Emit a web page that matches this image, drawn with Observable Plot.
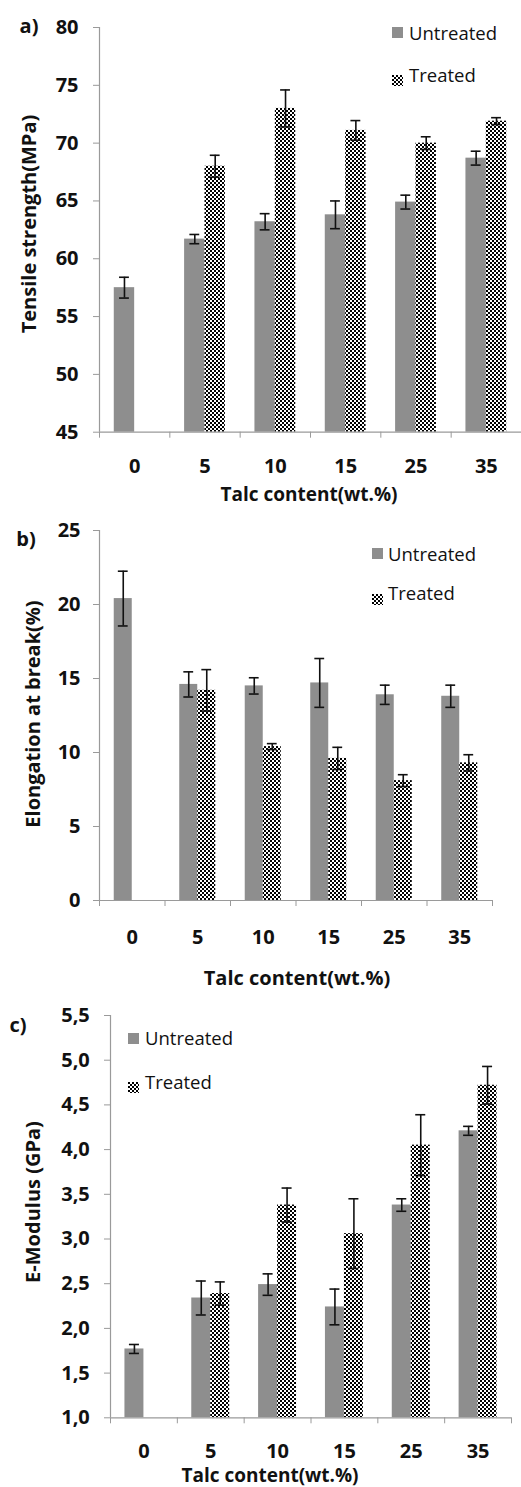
<!DOCTYPE html>
<html><head><meta charset="utf-8">
<script src="https://cdn.jsdelivr.net/npm/d3@7"></script>
<script src="https://cdn.jsdelivr.net/npm/@observablehq/plot@0.6"></script>
<style>
body{margin:0;background:#fff;}
#root{position:relative;width:521px;height:1487px;overflow:hidden;font-family:"Open Sans",sans-serif;color:#111;}
.panel{position:absolute;left:0;}
.t{position:absolute;white-space:nowrap;line-height:1;}
.b{font-weight:700;font-size:20px;}
.s{font-size:19px;}
.c{transform:translate(-50%,-50%);}
.r{transform:translate(-50%,-50%) rotate(-90deg);}
.lg{font-weight:400;font-size:18.5px;transform:translateY(-50%);}
.sw{position:absolute;width:11px;height:11px;}
</style></head>
<body>
<svg width="0" height="0" style="position:absolute">
  <defs>
    <pattern id="chk" width="4" height="4" patternUnits="userSpaceOnUse">
      <rect width="4" height="4" fill="#fff"/>
      <rect width="2" height="2" fill="#000"/>
      <rect x="2" y="2" width="2" height="2" fill="#000"/>
    </pattern>
  </defs>
</svg>
<div id="root"></div>
<script>
const cats = ["0","5","10","15","25","35"];

const tensileUntreated = [57.5, 61.7, 63.2, 63.8, 64.9, 68.7];
const tensileUntreatedErr = [0.9, 0.4, 0.7, 1.2, 0.6, 0.6];
const tensileTreated = [null, 68.0, 73.0, 71.1, 70.0, 71.9];
const tensileTreatedErr = [null, 0.95, 1.6, 0.85, 0.55, 0.3];
const tensileTicks = [45, 50, 55, 60, 65, 70, 75, 80];

const elongUntreated = [20.4, 14.6, 14.5, 14.7, 13.9, 13.8];
const elongUntreatedErr = [1.85, 0.85, 0.55, 1.65, 0.65, 0.75];
const elongTreated = [null, 14.2, 10.4, 9.6, 8.1, 9.3];
const elongTreatedErr = [null, 1.4, 0.2, 0.75, 0.4, 0.55];
const elongTicks = [0, 5, 10, 15, 20, 25];

const modUntreated = [1.77, 2.34, 2.49, 2.24, 3.38, 4.21];
const modUntreatedErr = [0.05, 0.19, 0.12, 0.2, 0.07, 0.05];
const modTreated = [null, 2.39, 3.38, 3.06, 4.05, 4.72];
const modTreatedErr = [null, 0.13, 0.19, 0.39, 0.34, 0.21];
const modTicks = [1.0, 1.5, 2.0, 2.5, 3.0, 3.5, 4.0, 4.5, 5.0, 5.5];

const root = document.getElementById("root");

function panel(cfg) {
  const n = cats.length;
  const bw = cfg.bar, cw = cfg.cap;
  const y0 = cfg.yDomain[0];
  const rowsU = cats.map((c, i) => ({i, v: cfg.u[i], e: cfg.ue[i]}));
  const rowsT = cats.map((c, i) => ({i, v: cfg.t[i], e: cfg.te[i]})).filter(d => d.v != null);
  const errs = [
    ...rowsU.map(d => ({...d, c: d.i + 0.5 - bw / 2})),
    ...rowsT.map(d => ({...d, c: d.i + 0.5 + bw / 2}))
  ];
  const chart = Plot.plot({
    width: 521, height: cfg.height,
    marginLeft: cfg.ml, marginRight: cfg.mr, marginTop: cfg.mt, marginBottom: cfg.mb,
    x: {domain: [0, n]},
    y: {domain: cfg.yDomain},
    style: {fontFamily: "Open Sans", fontSize: "20px", fontWeight: "bold", color: "#111", background: "transparent", overflow: "visible"},
    marks: [
      Plot.rect(rowsU, {x1: d => d.i + 0.5 - bw, x2: d => d.i + 0.5, y1: y0, y2: "v", fill: "#8e8e8e"}),
      Plot.rect(rowsT, {x1: d => d.i + 0.5, x2: d => d.i + 0.5 + bw, y1: y0, y2: "v", fill: "url(#chk)"}),
      Plot.ruleX(errs, {x: "c", y1: d => d.v - d.e, y2: d => d.v + d.e, stroke: "#111", strokeWidth: 1.6}),
      Plot.ruleY(errs, {x1: d => d.c - cw / 2, x2: d => d.c + cw / 2, y: d => d.v + d.e, stroke: "#111", strokeWidth: 1.6}),
      Plot.ruleY(errs, {x1: d => d.c - cw / 2, x2: d => d.c + cw / 2, y: d => d.v - d.e, stroke: "#111", strokeWidth: 1.6}),
      Plot.ruleX([0], {stroke: "#9a9a9a", strokeWidth: 1.2}),
      Plot.ruleY([y0], {stroke: "#9a9a9a", strokeWidth: 1.2}),
      Plot.axisY({ticks: cfg.yTicks, tickSize: 6, tickPadding: cfg.ytp, stroke: "#9a9a9a", fill: "#111", tickFormat: cfg.fmt, label: null}),
      Plot.axisX({ticks: d3.range(n + 1), tickSize: 6, tickFormat: () => "", stroke: "#9a9a9a", label: null}),
      Plot.axisX({ticks: cats.map((c, i) => i + 0.5), tickSize: 0, tickPadding: cfg.xtp, tickFormat: v => cats[Math.floor(v)], fill: "#111", label: null})
    ]
  });
  const div = document.createElement("div");
  div.className = "panel";
  div.style.top = cfg.top + "px";
  div.appendChild(chart);
  root.appendChild(div);
}

function addText(txt, cls, x, y) {
  const d = document.createElement("div");
  d.className = "t " + cls;
  d.style.left = x + "px";
  d.style.top = y + "px";
  d.textContent = txt;
  root.appendChild(d);
}
function addSwatch(x, y, fill) {
  const d = document.createElement("div");
  d.className = "sw";
  d.style.left = x + "px";
  d.style.top = y + "px";
  if (fill === "pattern") {
    d.innerHTML = '<svg width="11" height="11"><rect width="11" height="11" fill="url(#chk)"/></svg>';
  } else {
    d.style.background = fill;
  }
  root.appendChild(d);
}

const fmtInt = d => String(d);
const fmtComma = d => d.toFixed(1).replace(".", ",");

panel({top: 0, height: 510, ml: 99, mr: 0, mt: 27, mb: 78.3, yDomain: [45, 80], yTicks: tensileTicks,
  u: tensileUntreated, ue: tensileUntreatedErr, t: tensileTreated, te: tensileTreatedErr,
  bar: 0.29, cap: 0.14, ytp: 15, xtp: 27, fmt: fmtInt});
panel({top: 510, height: 490, ml: 99, mr: 29, mt: 20, mb: 100, yDomain: [0, 25], yTicks: elongTicks,
  u: elongUntreated, ue: elongUntreatedErr, t: elongTreated, te: elongTreatedErr,
  bar: 0.275, cap: 0.15, ytp: 13, xtp: 29.7, fmt: fmtInt});
panel({top: 1000, height: 487, ml: 110, mr: 10, mt: 15, mb: 69.7, yDomain: [1.0, 5.5], yTicks: modTicks,
  u: modUntreated, ue: modUntreatedErr, t: modTreated, te: modTreatedErr,
  bar: 0.284, cap: 0.15, ytp: 14.7, xtp: 26, fmt: fmtComma});

// Panel a texts
addText("a)", "b c", 29, 26);
addText("Tensile strength(MPa)", "b r", 29, 224);
addText("Talc content(wt.%)", "b s c", 309, 494);
addSwatch(392, 27, "#8e8e8e");
addText("Untreated", "lg", 409, 33);
addSwatch(392, 69, "pattern");
addText("Treated", "lg", 409, 75);

// Panel b texts
addText("b)", "b c", 26, 539);
addText("Elongation at break(%)", "b r", 33, 714);
addText("Talc content(wt.%)", "b c", 297, 978);
addSwatch(372, 548, "#8e8e8e");
addText("Untreated", "lg", 388, 554);
addSwatch(372, 588, "pattern");
addText("Treated", "lg", 388, 593);

// Panel c texts
addText("c)", "b c", 18, 1025);
addText("E-Modulus (GPa)", "b r", 33, 1202);
addText("Talc content(wt.%)", "b s c", 270, 1475);
addSwatch(128, 1033, "#8e8e8e");
addText("Untreated", "lg", 145, 1038);
addSwatch(128, 1076, "pattern");
addText("Treated", "lg", 145, 1082);
</script>
</body></html>
